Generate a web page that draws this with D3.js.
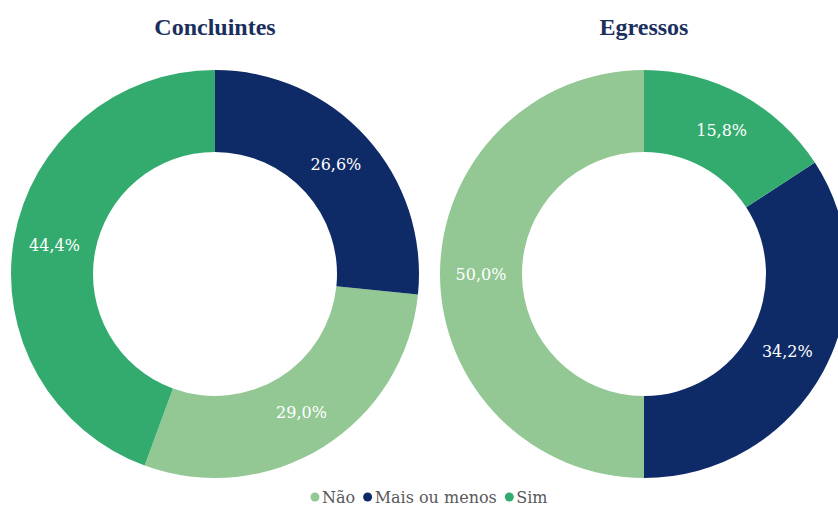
<!DOCTYPE html>
<html>
<head>
<meta charset="utf-8">
<script src="https://cdn.jsdelivr.net/npm/d3@7"></script>
<style>
  html, body { margin: 0; padding: 0; background: #fff; }
  svg { display: block; }
</style>
</head>
<body>
<svg id="chart" width="838" height="506"></svg>
<script>
// Response categories and their colours
const categories = ["Não", "Mais ou menos", "Sim"];
const colors = ["#93c894", "#0f2b67", "#33ab6e"];

// Percentages per group, in category order
const groups = ["Concluintes", "Egressos"];
const concluintes = [29.0, 26.6, 44.4];
const egressos = [50.0, 34.2, 15.8];
const seriesValues = [concluintes, egressos];

const W = 838, H = 506;
const svg = d3.select("#chart");

const color = d3.scaleOrdinal().domain(categories).range(colors);
const centerX = d3.scalePoint().domain(groups).range([215, 644]);
const cy = 274, outerR = 204, innerR = 122;

const titleFont = "'Liberation Serif', serif";
const bodyFont = "'DejaVu Serif', serif";

const fmt = v => d3.format(".1f")(v).replace(".", ",") + "%";

// Slices run clockwise from 12 o'clock, smallest first
const pie = d3.pie()
  .value(d => d.value)
  .sort((a, b) => a.value - b.value);

const arc = d3.arc().innerRadius(innerR).outerRadius(outerR);

groups.forEach((g, gi) => {
  const data = categories.map((c, i) => ({ category: c, value: seriesValues[gi][i] }));
  const cx = centerX(g);

  svg.append("text")
    .attr("x", cx)
    .attr("y", 35)
    .attr("text-anchor", "middle")
    .attr("font-family", titleFont)
    .attr("font-weight", "bold")
    .attr("font-size", 24)
    .attr("fill", "#1b2f5e")
    .text(g);

  const gEl = svg.append("g").attr("transform", `translate(${cx},${cy})`);
  const arcs = pie(data);

  gEl.selectAll("path")
    .data(arcs)
    .join("path")
    .attr("d", arc)
    .attr("fill", d => color(d.data.category));

  gEl.selectAll("text")
    .data(arcs)
    .join("text")
    .attr("transform", d => `translate(${arc.centroid(d)})`)
    .attr("text-anchor", "middle")
    .attr("dy", "0.35em")
    .attr("font-family", bodyFont)
    .attr("font-size", 16)
    .attr("fill", "#ffffff")
    .text(d => fmt(d.data.value));
});

// Legend under both charts
const legendCenter = 429;
const legend = svg.append("g").attr("transform", `translate(0, 497)`);
const items = legend.selectAll("g")
  .data(categories)
  .join("g");
items.append("circle")
  .attr("r", 4.5)
  .attr("fill", d => color(d));
items.append("text")
  .attr("x", 7)
  .attr("dy", "0.35em")
  .attr("font-family", bodyFont)
  .attr("font-size", 16)
  .attr("fill", "#595959")
  .text(d => d);

const widths = [];
items.each(function () { widths.push(this.getBBox().width); });
const gap = 8;
const total = d3.sum(widths) + gap * (widths.length - 1);
let x0 = legendCenter - total / 2 + 4.5;
items.attr("transform", (d, i) => {
  const t = `translate(${x0},0)`;
  x0 += widths[i] + gap;
  return t;
});
</script>
</body>
</html>
